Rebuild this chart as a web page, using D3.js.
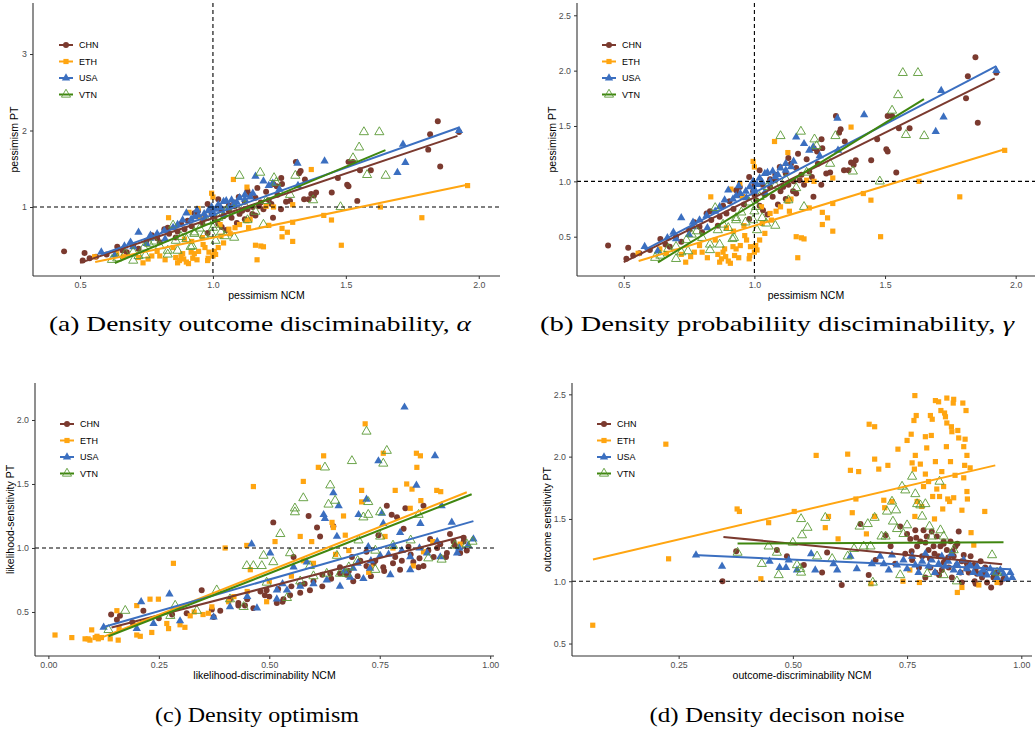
<!DOCTYPE html>
<html>
<head>
<meta charset="utf-8">
<script src="https://cdn.jsdelivr.net/npm/d3@7"></script>
<style>
  body { margin: 0; background: #fff; }
  svg { display: block; }
</style>
</head>
<body>
<svg id="chart" width="1035" height="733"></svg>
<script>
//
// Data
//

const groups = ["CHN", "ETH", "USA", "VTN"];

// pessimism: NCM (x) vs PT (y), same data in panels (a) and (b)
const pessCHN = [[0.44,0.42],[0.517,0.40],[0.51,0.30],[0.536,0.33],[0.64,0.48],[0.676,0.41],[0.72,0.455],[0.75,0.56],[0.79,0.59],[0.817,0.71],[0.835,0.65],[0.867,0.68],[0.893,0.71],[0.905,0.82],[0.93,0.92],[0.944,0.95],[0.957,0.86],[0.98,1.04],[0.995,0.91],[1.02,1.10],[1.007,0.83],[1.033,0.74],[1.05,0.70],[1.07,0.86],[1.08,1.01],[1.097,1.13],[1.11,0.95],[1.12,1.07],[1.13,1.21],[1.14,1.16],[1.148,0.91],[1.16,0.89],[1.173,1.01],[1.167,1.25],[1.2,1.20],[1.21,1.09],[1.227,1.30],[1.243,1.16],[1.256,0.97],[1.257,1.38],[1.275,1.07],[1.226,0.86],[1.312,1.59],[1.324,1.44],[1.33,1.47],[1.346,1.36],[1.343,1.10],[1.36,1.10],[1.37,1.17],[1.388,1.19],[1.447,1.19],[1.47,1.38],[1.505,1.29],[1.51,1.27],[1.51,1.59],[1.527,1.59],[1.543,1.08],[1.553,1.48],[1.594,1.48],[1.81,1.75],[1.817,1.95],[1.846,2.12],[1.855,1.53],[1.926,1.98],[0.88,0.78],[0.92,0.75],[0.96,0.79],[0.98,0.66],[1.0,0.97],[1.03,0.97],[1.04,0.88],[1.06,0.95],[1.09,0.79],[1.1,0.91],[1.12,0.84],[1.13,0.97],[1.15,1.0],[1.18,1.06],[1.19,0.97],[1.22,1.04],[1.24,1.27],[1.29,1.08],[1.06,1.02],[0.94,0.88],[0.86,0.6],[0.8,0.54],[0.77,0.63],[0.7,0.5],[0.66,0.43],[0.6,0.38],[0.56,0.35],[0.83,0.73],[1.0,0.88],[1.02,0.78],[1.08,1.06],[1.16,1.12],[1.26,1.3],[1.38,1.15]];
const pessETH = [[0.555,0.35],[0.638,0.39],[0.663,0.35],[0.737,0.27],[0.756,0.32],[0.77,0.36],[0.80,0.36],[0.833,0.86],[0.867,0.27],[0.874,0.30],[0.88,0.36],[0.886,0.39],[0.89,0.32],[0.893,0.58],[0.908,0.26],[0.91,0.93],[0.918,0.41],[0.924,0.33],[0.93,0.39],[0.944,0.98],[0.946,0.42],[0.954,0.86],[0.963,0.51],[0.97,0.47],[0.982,0.33],[0.985,0.41],[0.995,1.18],[1.0,1.13],[1.005,0.42],[1.01,0.38],[1.02,0.47],[1.027,0.77],[1.04,0.53],[1.065,0.65],[1.083,0.73],[1.077,1.36],[1.128,1.26],[1.128,0.82],[1.134,0.73],[1.16,0.5],[1.166,0.31],[1.18,0.49],[1.19,0.48],[1.2,1.01],[1.21,0.76],[1.228,1.0],[1.26,0.72],[1.26,0.61],[1.28,0.67],[1.30,0.80],[1.3,0.55],[1.30,1.03],[1.37,1.49],[1.417,0.89],[1.446,0.83],[1.483,0.5],[1.63,1.0],[1.786,0.86],[1.958,1.28],[0.82,0.31],[0.86,0.34],[0.9,0.28],[0.94,0.31],[0.98,0.3],[1.0,0.36],[0.96,0.6],[0.92,0.55],[1.03,0.62],[1.06,0.71],[1.1,0.77],[0.72,0.34],[0.79,0.42],[0.85,0.47],[1.14,0.84]];
const pessUSA = [[0.58,0.41],[0.63,0.37],[0.667,0.49],[0.70,0.48],[0.72,0.67],[0.765,0.63],[0.765,0.59],[0.79,0.65],[0.817,0.69],[0.85,0.73],[0.867,0.77],[0.886,0.83],[0.918,0.84],[0.93,0.87],[0.946,0.89],[0.967,0.91],[0.982,0.95],[0.995,1.0],[1.01,0.97],[1.02,1.03],[1.04,1.07],[1.05,1.08],[1.07,1.09],[1.08,1.04],[1.10,1.12],[1.12,1.16],[1.14,1.13],[1.16,1.40],[1.19,1.34],[1.21,1.28],[1.225,1.31],[1.318,1.57],[1.32,1.28],[1.42,1.60],[1.715,1.82],[1.724,1.58],[1.694,1.45],[1.926,2.0],[0.94,0.96],[0.97,0.85],[1.0,0.93],[1.03,0.99],[1.06,1.0],[1.09,1.06],[1.12,1.1],[0.9,0.92],[0.75,0.52],[0.82,0.58],[1.0,0.91],[1.04,0.9],[1.15,1.18],[1.25,1.23],[0.69,0.54]];
const pessVTN = [[0.62,0.31],[0.67,0.39],[0.70,0.30],[0.70,0.41],[0.746,0.37],[0.76,0.52],[0.80,0.49],[0.83,0.38],[0.83,0.43],[0.85,0.76],[0.867,0.43],[0.916,0.48],[0.922,0.49],[0.93,0.65],[0.93,0.67],[0.966,0.63],[0.995,0.65],[1.006,0.77],[1.01,0.56],[1.03,0.67],[1.045,0.62],[1.08,0.60],[1.10,1.41],[1.13,0.83],[1.16,0.94],[1.178,1.45],[1.19,0.77],[1.23,1.38],[1.238,1.32],[1.29,1.16],[1.31,1.41],[1.377,1.09],[1.48,1.0],[1.527,1.64],[1.55,1.78],[1.568,1.98],[1.58,1.42],[1.626,1.98],[1.65,1.41],[0.74,0.47],[0.78,0.55],[0.88,0.61],[0.95,0.72],[0.98,0.81],[1.02,0.86],[1.05,0.95],[1.08,0.96],[1.12,1.02],[1.2,1.08],[0.64,0.33],[0.72,0.36],[0.86,0.56],[0.9,0.58],[1.0,0.73]];
// fitted lines: [x0, y0, x1, y1]
const pessFit = { CHN: [0.5,0.27,1.92,1.93], ETH: [0.557,0.28,1.958,1.29], USA: [0.58,0.38,1.926,2.04], VTN: [0.631,0.268,1.649,1.743] };

// optimism: likelihood-discriminability NCM (x) vs likelihood-sensitivity PT (y)
const optCHN = [[0.142,0.48],[0.155,0.44],[0.162,0.47],[0.215,0.51],[0.313,0.49],[0.347,0.67],[0.374,0.46],[0.389,0.51],[0.411,0.60],[0.43,0.57],[0.445,0.55],[0.464,0.53],[0.48,0.66],[0.494,0.67],[0.509,1.20],[0.517,0.57],[0.532,0.60],[0.547,0.63],[0.555,0.93],[0.57,0.71],[0.589,1.25],[0.592,0.67],[0.608,1.16],[0.615,1.09],[0.62,0.79],[0.638,0.80],[0.645,1.17],[0.66,0.85],[0.675,0.79],[0.687,0.93],[0.706,0.90],[0.72,0.97],[0.736,0.88],[0.747,1.10],[0.758,0.85],[0.766,1.33],[0.777,1.26],[0.785,0.93],[0.789,1.24],[0.796,0.83],[0.804,1.15],[0.808,1.31],[0.815,1.01],[0.826,0.89],[0.838,0.85],[0.849,1.33],[0.849,0.86],[0.864,1.07],[0.872,0.93],[0.887,1.03],[0.902,0.96],[0.909,1.11],[0.917,1.05],[0.932,0.96],[0.94,1.08],[0.947,0.98],[0.45,0.6],[0.5,0.62],[0.52,0.68],[0.55,0.7],[0.58,0.72],[0.6,0.74],[0.62,0.7],[0.64,0.76],[0.66,0.8],[0.68,0.82],[0.7,0.78],[0.72,0.86],[0.74,0.9],[0.76,0.82],[0.78,0.88],[0.8,0.9],[0.82,0.95],[0.84,0.92],[0.86,0.98],[0.88,1.0],[0.9,0.93],[0.92,1.02],[0.94,1.05],[0.73,0.78],[0.69,0.74],[0.57,0.65],[0.53,0.58],[0.49,0.63],[0.43,0.55],[0.37,0.52],[0.28,0.48],[0.25,0.45],[0.19,0.42]];
const optETH = [[0.015,0.32],[0.053,0.30],[0.083,0.29],[0.094,0.28],[0.098,0.36],[0.106,0.30],[0.113,0.29],[0.12,0.30],[0.14,0.29],[0.155,0.51],[0.158,0.28],[0.2,0.55],[0.2,0.32],[0.208,0.31],[0.23,0.60],[0.234,0.34],[0.249,0.60],[0.268,0.41],[0.272,0.37],[0.283,0.88],[0.298,0.40],[0.309,0.38],[0.321,0.47],[0.35,0.48],[0.362,0.49],[0.37,0.54],[0.4,1.0],[0.408,0.58],[0.449,1.02],[0.457,0.83],[0.464,1.48],[0.494,0.58],[0.513,1.05],[0.577,1.52],[0.57,1.09],[0.577,0.90],[0.596,1.05],[0.611,1.63],[0.623,1.72],[0.642,1.20],[0.645,1.16],[0.668,1.25],[0.672,1.10],[0.709,1.45],[0.709,1.36],[0.717,1.97],[0.725,0.81],[0.758,1.74],[0.762,1.09],[0.785,1.45],[0.811,1.50],[0.819,1.31],[0.823,1.46],[0.826,0.86],[0.834,1.63],[0.833,1.74],[0.842,1.72],[0.843,1.37],[0.849,0.97],[0.879,1.45],[0.888,1.44],[0.932,1.03],[0.5,0.74],[0.55,0.78],[0.6,0.88],[0.65,0.95],[0.68,0.98],[0.73,0.85],[0.78,1.0],[0.87,1.05],[0.45,0.66],[0.42,0.62],[0.33,0.5],[0.11,0.31],[0.09,0.29],[0.16,0.37]];
const optUSA = [[0.125,0.38],[0.21,0.58],[0.20,0.37],[0.238,0.41],[0.274,0.64],[0.298,0.43],[0.374,0.46],[0.411,0.54],[0.46,1.03],[0.472,0.53],[0.502,0.96],[0.517,0.67],[0.517,0.60],[0.54,0.67],[0.555,0.85],[0.585,0.89],[0.623,1.26],[0.626,1.23],[0.645,1.43],[0.657,1.33],[0.653,1.09],[0.66,0.70],[0.683,0.77],[0.69,0.84],[0.702,1.26],[0.713,0.76],[0.72,1.38],[0.724,1.01],[0.728,0.84],[0.747,1.68],[0.751,0.94],[0.755,1.27],[0.758,1.19],[0.774,0.79],[0.781,1.01],[0.796,1.12],[0.806,2.10],[0.819,0.93],[0.819,0.83],[0.833,1.49],[0.842,1.19],[0.857,0.96],[0.875,1.72],[0.887,0.93],[0.89,1.33],[0.913,1.20],[0.925,0.96],[0.962,1.07],[0.6,0.72],[0.63,0.75],[0.67,0.82],[0.7,0.88],[0.73,0.9],[0.77,0.95],[0.8,0.98],[0.84,1.0],[0.88,1.05],[0.93,1.0],[0.95,1.02],[0.57,0.7],[0.53,0.72],[0.45,0.62]];
const optVTN = [[0.136,0.36],[0.174,0.51],[0.276,0.47],[0.287,0.55],[0.336,0.51],[0.381,0.67],[0.411,0.60],[0.442,0.54],[0.449,0.86],[0.464,0.86],[0.483,0.86],[0.487,0.94],[0.494,0.73],[0.509,0.89],[0.525,1.11],[0.54,0.61],[0.547,0.96],[0.558,1.31],[0.558,1.28],[0.577,1.39],[0.592,0.86],[0.626,1.63],[0.638,1.49],[0.634,1.34],[0.649,1.37],[0.653,0.94],[0.66,0.80],[0.675,0.80],[0.687,1.68],[0.702,1.06],[0.713,1.24],[0.72,1.91],[0.724,1.36],[0.724,1.26],[0.74,0.83],[0.751,1.28],[0.751,1.09],[0.758,1.66],[0.766,1.76],[0.838,1.26],[0.86,0.92],[0.89,0.91],[0.947,1.03],[0.6,0.78],[0.63,0.8],[0.68,0.85],[0.7,0.9],[0.74,0.98],[0.78,1.02],[0.82,1.06],[0.92,1.02],[0.96,1.05],[0.57,0.74]];
const optFit = { CHN: [0.143,0.378,0.942,1.094], ETH: [0.12,0.30,0.947,1.435], USA: [0.125,0.383,0.962,1.21], VTN: [0.136,0.31,0.958,1.42] };

// decision noise: outcome-discriminability NCM (x) vs outcome sensitivity PT (y)
const noiseCHN = [[0.346,1.0],[0.376,1.24],[0.465,1.25],[0.487,1.20],[0.524,1.13],[0.564,1.07],[0.575,1.23],[0.607,0.97],[0.648,1.46],[0.666,1.05],[0.681,1.17],[0.703,1.37],[0.714,1.28],[0.724,1.14],[0.735,1.44],[0.746,1.22],[0.75,1.38],[0.757,1.34],[0.761,1.17],[0.768,1.41],[0.772,1.28],[0.776,1.11],[0.779,1.32],[0.783,1.20],[0.786,1.41],[0.79,1.03],[0.793,1.36],[0.797,1.25],[0.801,1.11],[0.804,1.40],[0.808,1.28],[0.812,1.07],[0.815,1.36],[0.819,1.20],[0.823,1.28],[0.826,1.09],[0.83,1.32],[0.834,1.17],[0.837,1.25],[0.841,1.11],[0.845,1.32],[0.848,1.03],[0.852,1.20],[0.856,1.28],[0.859,1.13],[0.863,1.40],[0.867,1.07],[0.87,0.99],[0.874,1.21],[0.881,1.14],[0.885,1.07],[0.889,1.20],[0.896,1.13],[0.9,0.98],[0.903,1.06],[0.911,1.16],[0.914,1.03],[0.921,1.11],[0.925,0.99],[0.934,0.95],[0.939,1.03],[0.947,1.07],[0.954,0.99],[0.961,1.02],[0.898,1.0],[0.79,1.31],[0.81,1.22],[0.83,1.15],[0.85,1.24],[0.87,1.16],[0.8,1.18],[0.76,1.24],[0.82,1.05],[0.88,1.1],[0.9,1.09],[0.92,1.06],[0.94,1.04],[0.84,1.19],[0.77,1.35],[0.86,1.3],[0.83,1.3]];
const noiseETH = [[0.062,0.647],[0.222,2.10],[0.228,1.18],[0.378,1.58],[0.383,1.56],[0.43,1.02],[0.447,1.47],[0.503,1.56],[0.551,2.01],[0.571,1.43],[0.578,1.52],[0.599,1.34],[0.62,2.02],[0.626,1.89],[0.63,1.55],[0.638,1.66],[0.644,1.88],[0.661,1.38],[0.667,2.26],[0.671,0.98],[0.679,2.24],[0.679,1.98],[0.679,1.52],[0.688,1.90],[0.699,1.65],[0.701,1.59],[0.708,1.93],[0.717,1.64],[0.73,2.06],[0.741,1.0],[0.75,2.13],[0.756,1.09],[0.759,2.18],[0.761,1.95],[0.765,2.29],[0.767,2.49],[0.767,1.52],[0.768,2.01],[0.77,2.33],[0.772,1.64],[0.777,0.99],[0.779,1.94],[0.782,1.60],[0.786,1.76],[0.79,2.16],[0.79,1.86],[0.793,2.07],[0.797,1.80],[0.801,2.33],[0.803,2.17],[0.805,2.30],[0.806,1.68],[0.81,1.50],[0.812,1.96],[0.812,2.45],[0.815,1.74],[0.819,2.44],[0.821,1.68],[0.824,2.37],[0.826,1.88],[0.828,1.58],[0.83,1.76],[0.832,2.35],[0.834,2.32],[0.836,2.08],[0.837,2.47],[0.837,2.27],[0.839,1.66],[0.843,1.64],[0.845,1.96],[0.847,2.24],[0.848,2.20],[0.851,2.43],[0.852,2.46],[0.852,1.67],[0.855,1.85],[0.86,0.91],[0.861,2.21],[0.863,2.15],[0.87,1.57],[0.872,2.43],[0.874,1.83],[0.874,2.08],[0.876,1.93],[0.877,2.14],[0.879,2.37],[0.881,1.72],[0.881,2.01],[0.882,1.66],[0.888,1.91],[0.89,1.39],[0.896,1.29],[0.907,0.97],[0.92,1.56],[0.947,0.99],[0.87,0.95],[0.766,1.90]];
const noiseUSA = [[0.288,1.21],[0.345,1.12],[0.449,1.16],[0.471,1.11],[0.485,1.11],[0.491,1.17],[0.509,1.09],[0.54,1.22],[0.549,1.09],[0.589,1.14],[0.597,1.09],[0.626,1.20],[0.64,1.10],[0.673,1.14],[0.691,1.20],[0.699,1.14],[0.71,1.09],[0.717,1.21],[0.728,1.13],[0.742,1.17],[0.75,1.10],[0.761,1.20],[0.768,1.13],[0.775,1.07],[0.783,1.16],[0.79,1.22],[0.797,1.12],[0.804,1.17],[0.811,1.07],[0.819,1.14],[0.826,1.20],[0.833,1.12],[0.84,1.16],[0.847,1.22],[0.852,1.09],[0.859,1.14],[0.866,1.07],[0.874,1.17],[0.881,1.10],[0.888,1.13],[0.895,1.07],[0.903,1.12],[0.91,1.06],[0.917,1.09],[0.925,1.05],[0.932,1.10],[0.939,1.07],[0.947,1.03],[0.954,1.09],[0.961,1.06],[0.968,1.02],[0.976,1.07],[0.98,1.03]];
const noiseVTN = [[0.379,1.23],[0.432,1.14],[0.447,1.28],[0.465,1.23],[0.469,1.05],[0.5,1.31],[0.509,1.13],[0.516,1.10],[0.518,1.07],[0.518,1.50],[0.52,1.37],[0.532,1.43],[0.553,1.20],[0.571,1.51],[0.586,1.18],[0.62,1.20],[0.634,1.26],[0.646,1.44],[0.655,1.28],[0.664,1.46],[0.67,1.28],[0.675,0.99],[0.679,1.51],[0.694,1.36],[0.703,1.36],[0.706,1.56],[0.717,1.64],[0.719,1.48],[0.726,1.57],[0.728,1.42],[0.735,1.05],[0.739,1.76],[0.742,1.38],[0.746,1.73],[0.75,1.45],[0.761,1.84],[0.768,1.70],[0.772,1.62],[0.779,1.61],[0.783,1.52],[0.79,1.62],[0.799,1.44],[0.804,1.36],[0.821,1.80],[0.823,1.41],[0.83,1.36],[0.852,1.25],[0.859,1.0],[0.936,1.21],[0.947,1.07],[0.794,1.06],[0.83,1.05]];
const noiseFit = { CHN: [0.348,1.356,0.958,1.136], ETH: [0.0625,1.174,0.943,1.93], USA: [0.283,1.21,0.976,1.096], VTN: [0.379,1.302,0.961,1.313] };

// tick labels
const ticksPessX = [0.5, 1.0, 1.5, 2.0];
const ticksPessYa = [1, 2, 3];
const ticksPessYb = [0.5, 1.0, 1.5, 2.0, 2.5];
const ticksOptX = [0.0, 0.25, 0.5, 0.75, 1.0];
const ticksOptY = [0.5, 1.0, 1.5, 2.0];
const ticksNoiseX = [0.25, 0.5, 0.75, 1.0];
const ticksNoiseY = [0.5, 1.0, 1.5, 2.0, 2.5];

//
// Styles
//

const colors = { CHN: "#7b3a2f", ETH: "#ffa511", USA: "#3b6fc0", VTN: "#3f860f" };
const symbols = { CHN: d3.symbolCircle, ETH: d3.symbolSquare, USA: d3.symbolTriangle, VTN: d3.symbolTriangle };
const symSize = { CHN: 28, ETH: 27, USA: 30, VTN: 36 };
const hollow = { VTN: true };

const svg = d3.select("#chart");

function drawPanel(cfg) {
  const g = svg.append("g");
  const x = d3.scaleLinear().domain(cfg.xdom).range([cfg.left, cfg.right]);
  const y = d3.scaleLinear().domain(cfg.ydom).range([cfg.bottom, cfg.top]);

  const clipId = "clip" + cfg.id;
  g.append("clipPath").attr("id", clipId)
    .append("rect")
    .attr("x", cfg.left).attr("y", cfg.top)
    .attr("width", cfg.right - cfg.left).attr("height", cfg.bottom - cfg.top);
  const plot = g.append("g").attr("clip-path", `url(#${clipId})`);

  // points
  groups.forEach((k) => {
    plot.append("g")
      .selectAll("path")
      .data(cfg.data[k])
      .enter()
      .append("path")
      .attr("transform", (d) => `translate(${x(d[0])},${y(d[1])})`)
      .attr("d", d3.symbol(symbols[k], symSize[k]))
      .attr("fill", hollow[k] ? "none" : colors[k])
      .attr("stroke", hollow[k] ? "#5a9a35" : "none")
      .attr("stroke-width", 0.9);
  });

  // reference lines
  const dash = "4,3";
  if (cfg.vline != null) {
    plot.append("line")
      .attr("x1", x(cfg.vline)).attr("x2", x(cfg.vline))
      .attr("y1", cfg.top).attr("y2", cfg.bottom)
      .attr("stroke", "#000").attr("stroke-width", 1.1).attr("stroke-dasharray", dash);
  }
  plot.append("line")
    .attr("x1", cfg.left).attr("x2", cfg.right)
    .attr("y1", y(cfg.hline)).attr("y2", y(cfg.hline))
    .attr("stroke", "#000").attr("stroke-width", 1.1).attr("stroke-dasharray", dash);

  // fitted lines
  groups.forEach((k) => {
    const f = cfg.fit[k];
    plot.append("line")
      .attr("x1", x(f[0])).attr("y1", y(f[1]))
      .attr("x2", x(f[2])).attr("y2", y(f[3]))
      .attr("stroke", colors[k]).attr("stroke-width", 2);
  });

  // axes
  const fmt = cfg.fmt;
  const xAxis = g.append("g")
    .attr("transform", `translate(0,${cfg.bottom})`)
    .call(d3.axisBottom(x).tickValues(cfg.xticks).tickFormat(d3.format(fmt.x)).tickSize(3).tickPadding(3));
  const yAxis = g.append("g")
    .attr("transform", `translate(${cfg.left},0)`)
    .call(d3.axisLeft(y).tickValues(cfg.yticks).tickFormat(d3.format(fmt.y)).tickSize(3).tickPadding(3));
  [xAxis, yAxis].forEach((a) => {
    a.select(".domain").attr("stroke", "#333").attr("stroke-width", 1.1);
    a.selectAll(".tick line").attr("stroke", "#333");
    a.selectAll(".tick text")
      .attr("fill", "#4d4d4d")
      .style("font-family", "Liberation Sans, Arial, sans-serif")
      .style("font-size", "8.8px");
  });
  // the domain path runs the full range, no outer ticks
  xAxis.select(".domain").attr("d", `M${cfg.left},0H${cfg.right}`);
  yAxis.select(".domain").attr("d", `M0,${cfg.top}V${cfg.bottom}`);

  // axis titles
  g.append("text")
    .attr("x", (cfg.left + cfg.right) / 2).attr("y", cfg.bottom + 23)
    .attr("text-anchor", "middle")
    .style("font-family", "Liberation Sans, Arial, sans-serif")
    .style("font-size", "10.5px")
    .text(cfg.xlabel);
  g.append("text")
    .attr("transform", `translate(${cfg.ytitleX},${(cfg.top + cfg.bottom) / 2}) rotate(-90)`)
    .attr("text-anchor", "middle")
    .style("font-family", "Liberation Sans, Arial, sans-serif")
    .style("font-size", "10.5px")
    .text(cfg.ylabel);

  // legend
  const leg = g.append("g").attr("transform", `translate(${cfg.legX},${cfg.legY})`);
  groups.forEach((k, i) => {
    const row = leg.append("g").attr("transform", `translate(0,${i * 16.5})`);
    row.append("line").attr("x1", 0).attr("x2", 14).attr("y1", 0).attr("y2", 0)
      .attr("stroke", colors[k]).attr("stroke-width", 2);
    row.append("path")
      .attr("transform", "translate(7,0)")
      .attr("d", d3.symbol(symbols[k], symSize[k]))
      .attr("fill", hollow[k] ? "none" : colors[k])
      .attr("stroke", hollow[k] ? "#5a9a35" : "none")
      .attr("stroke-width", 0.9);
    row.append("text").attr("x", 20).attr("y", 3.3)
      .style("font-family", "Liberation Sans, Arial, sans-serif")
      .style("font-size", "9px")
      .text(k);
  });

  // caption, with the greek letter set in italic
  const cap = svg.append("text")
    .attr("x", cfg.capX).attr("y", cfg.capY)
    .attr("text-anchor", "middle")
    .attr("textLength", cfg.capW)
    .attr("lengthAdjust", "spacingAndGlyphs")
    .style("font-family", "'Liberation Serif', 'Times New Roman', serif")
    .style("font-size", "21px");
  cap.append("tspan").text(cfg.caption);
  if (cfg.greek) cap.append("tspan").style("font-style", "italic").text(cfg.greek);
}

const pessData = { CHN: pessCHN, ETH: pessETH, USA: pessUSA, VTN: pessVTN };

drawPanel({
  id: "a", left: 33, right: 500, top: 3, bottom: 276,
  xdom: [0.323, 2.08], ydom: [0.098, 3.667],
  xticks: ticksPessX, yticks: ticksPessYa, fmt: { x: ".1f", y: "d" },
  data: pessData, fit: pessFit, vline: 1, hline: 1,
  xlabel: "pessimism NCM", ylabel: "pessimism PT", ytitleX: 18,
  legX: 59, legY: 45,
  caption: "(a) Density outcome disciminability, ", greek: "\u03b1", capX: 260, capY: 331, capW: 422,
});

drawPanel({
  id: "b", left: 577, right: 1035, top: 3, bottom: 276,
  xdom: [0.321, 2.074], ydom: [0.145, 2.611],
  xticks: ticksPessX, yticks: ticksPessYb, fmt: { x: ".1f", y: ".1f" },
  data: pessData, fit: pessFit, vline: 1, hline: 1,
  xlabel: "pessimism NCM", ylabel: "pessimism PT", ytitleX: 556,
  legX: 602, legY: 45,
  caption: "(b) Density probabiliity disciminability, ", greek: "\u03b3", capX: 777, capY: 331, capW: 474,
});

drawPanel({
  id: "c", left: 35, right: 494, top: 383, bottom: 656,
  xdom: [-0.0303, 1.0086], ydom: [0.156, 2.289],
  xticks: ticksOptX, yticks: ticksOptY, fmt: { x: ".2f", y: ".1f" },
  data: { CHN: optCHN, ETH: optETH, USA: optUSA, VTN: optVTN }, fit: optFit, vline: null, hline: 1,
  xlabel: "likelihood-discriminability NCM", ylabel: "likelihood-sensitivity PT", ytitleX: 14,
  legX: 60, legY: 424,
  caption: "(c) Density optimism", greek: null, capX: 257, capY: 722, capW: 204,
});

drawPanel({
  id: "d", left: 572, right: 1032, top: 383, bottom: 656,
  xdom: [0.0166, 1.0234], ydom: [0.4, 2.591],
  xticks: ticksNoiseX, yticks: ticksNoiseY, fmt: { x: ".2f", y: ".1f" },
  data: { CHN: noiseCHN, ETH: noiseETH, USA: noiseUSA, VTN: noiseVTN }, fit: noiseFit, vline: null, hline: 1,
  xlabel: "outcome-discriminability NCM", ylabel: "outcome sensitivity PT", ytitleX: 551,
  legX: 597, legY: 424,
  caption: "(d) Density decison noise", greek: null, capX: 777, capY: 722, capW: 255,
});
</script>
</body>
</html>
